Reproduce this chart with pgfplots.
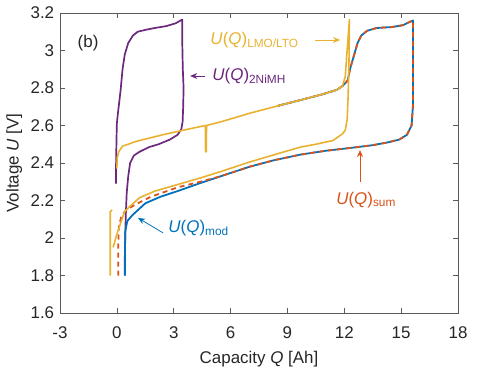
\documentclass[border=0pt]{standalone}
\usepackage{fontspec}
\setmainfont{Liberation Sans}
\usepackage{pgfplots}
\pgfplotsset{compat=1.18}
\usetikzlibrary{arrows.meta}
\definecolor{mpurple}{RGB}{107,40,125}
\definecolor{myellow}{RGB}{232,178,48}
\definecolor{mblue}{RGB}{0,114,189}
\definecolor{mred}{RGB}{217,83,25}
\definecolor{axgray}{RGB}{90,90,90}
\newcommand{\bigf}{\fontsize{17}{20}\selectfont}
\begin{document}
\bigf
\begin{tikzpicture}
\useasboundingbox (-60bp,-74bp) rectangle (440bp,313bp);
\begin{axis}[
  at={(0,0)}, anchor=south west,
  scale only axis, width=398bp, height=300bp,
  xmin=-3, xmax=18, ymin=1.6, ymax=3.2,
  xtick={-3,0,3,6,9,12,15,18},
  xticklabels={-3,0,3,6,9,12,15,18},
  ytick={1.6,1.8,2,2.2,2.4,2.6,2.8,3,3.2},
  yticklabels={1.6,1.8,2,2.2,2.4,2.6,2.8,3,3.2},
  tick align=inside, major tick length=5bp,
  axis line style={axgray, line width=0.8pt},
  tick style={axgray, line width=0.6pt},
  ticklabel style={font=\bigf, text=black!85},
  xticklabel style={yshift=-8bp},
  xlabel={Capacity \textit{Q} [Ah]},
  ylabel={Voltage \textit{U} [V]},
  label style={font=\bigf, text=black!85},
  xlabel style={at={(axis description cs:0.5,-0.153)}, anchor=center},
  ylabel style={at={(axis description cs:-0.115,0.5)}, anchor=center},
  /pgf/number format/assume math mode=true,
  clip=false,
]
% purple 2NiMH
\addplot[mpurple, line width=1.7pt, line join=round] coordinates {
(-0.05,2.29) (-0.04,2.40) (-0.02,2.52) (0.0,2.61) (0.05,2.66) (0.12,2.72) (0.2,2.79) (0.3,2.90) (0.42,2.98) (0.6,3.04) (0.85,3.08) (1.1,3.10) (1.5,3.11) (2.0,3.12) (2.6,3.13) (3.1,3.145) (3.45,3.165) (3.45,3.05) (3.48,2.9) (3.52,2.8) (3.5,2.7) (3.47,2.62) (3.4,2.58) (3.2,2.55) (2.8,2.525) (2.2,2.50) (1.7,2.485) (1.2,2.46) (0.9,2.44) (0.7,2.40) (0.6,2.33) (0.52,2.24) (0.47,2.12) (0.44,2.0) (0.42,1.9) (0.41,1.8)
};
% blue mod
\addplot[mblue, line width=1.8pt, line join=round] coordinates {
(0.43,1.80) (0.43,1.95) (0.45,2.04) (0.55,2.09) (0.8,2.12) (1.5,2.185) (2.3,2.22) (3.2,2.25) (4.4,2.293) (5.5,2.33) (7.0,2.38) (8.3,2.415) (9.7,2.445) (11.0,2.465) (12.3,2.48) (13.5,2.495) (14.3,2.51) (14.9,2.525) (15.3,2.55) (15.55,2.6) (15.62,2.7) (15.63,3.16)
(15.4,3.15) (15.1,3.135) (14.5,3.125) (13.7,3.12) (13.2,3.105) (12.9,3.08) (12.7,3.04) (12.5,2.97) (12.3,2.90) (12.18,2.84) (11.9,2.81) (11.6,2.79) (10.8,2.765) (9.7,2.736) (8.5,2.705)
};
% red sum dashed
\addplot[mred, line width=1.8pt, dash pattern=on 5bp off 4bp, line join=round] coordinates {
(0.07,1.80) (0.07,1.95) (0.1,2.06) (0.25,2.12) (0.5,2.15) (1.0,2.18) (1.8,2.22) (3.2,2.27) (4.4,2.30) (5.5,2.33) (7.0,2.38) (8.3,2.415) (9.7,2.445) (11.0,2.465) (12.3,2.48) (13.5,2.495) (14.3,2.51) (14.9,2.525) (15.3,2.55) (15.55,2.6) (15.62,2.7) (15.63,3.16)
(15.4,3.15) (15.1,3.135) (14.5,3.125) (13.7,3.12) (13.2,3.105) (12.9,3.08) (12.7,3.04) (12.5,2.97) (12.3,2.90) (12.18,2.84) (11.9,2.81) (11.6,2.79) (10.8,2.765) (9.7,2.736) (8.5,2.705)
};
% yellow LMO/LTO
\addplot[myellow, line width=1.6pt, line join=round] coordinates {
(0.0,2.37) (0.02,2.43) (0.1,2.46) (0.3,2.49) (0.6,2.50) (1.0,2.515) (1.8,2.535) (2.4,2.55) (3.5,2.575) (4.67,2.60) (4.68,2.46) (4.72,2.46) (4.73,2.60) (5.5,2.62) (7.0,2.665) (8.5,2.705) (9.7,2.736) (10.8,2.765) (11.6,2.79) (11.9,2.81) (12.05,2.86) (12.15,3.0) (12.27,3.165)
(12.25,2.95) (12.2,2.75) (12.15,2.63) (12.05,2.575) (11.9,2.555) (11.4,2.52) (10.5,2.50) (9.7,2.485) (8.5,2.45) (7.0,2.405) (5.5,2.355) (4.4,2.32) (3.2,2.285) (2.0,2.25) (1.2,2.215) (0.7,2.17) (0.4,2.14) (0.2,2.08) (0.0,2.02) (-0.2,1.95)
};
\addplot[myellow, line width=1.6pt] coordinates {(-0.35,1.80) (-0.35,2.14) (-0.25,2.15)};
% annotations
\node[anchor=center, text=black!85] at (axis cs:-1.52,3.04) {(b)};
\node[anchor=west, text=myellow, inner sep=0pt] at (axis cs:4.93,3.056) {\textit{U}(\textit{Q})\textsubscript{LMO/LTO}};
\draw[myellow, line width=0.8pt, -{Stealth[length=7bp,width=6bp]}] (axis cs:10.47,3.056) -- (axis cs:11.78,3.056);
\node[anchor=west, text=mpurple, inner sep=0pt] at (axis cs:5.03,2.864) {\textit{U}(\textit{Q})\textsubscript{2NiMH}};
\draw[mpurple, line width=0.8pt, -{Stealth[length=7bp,width=6bp]}] (axis cs:4.65,2.864) -- (axis cs:3.87,2.864);
\node[anchor=west, text=mblue, inner sep=0pt] at (axis cs:2.71,2.053) {\textit{U}(\textit{Q})\textsubscript{mod}};
\draw[mblue, line width=0.8pt, -{Stealth[length=7bp,width=6bp]}] (axis cs:2.44,2.027) -- (axis cs:1.12,2.107);
\node[anchor=center, text=mred, inner sep=0pt] at (axis cs:13.15,2.203) {\textit{U}(\textit{Q})\textsubscript{sum}};
\draw[mred, line width=0.8pt, -{Stealth[length=7bp,width=6bp]}] (axis cs:12.83,2.299) -- (axis cs:12.83,2.469);
\end{axis}
\end{tikzpicture}
\end{document}
